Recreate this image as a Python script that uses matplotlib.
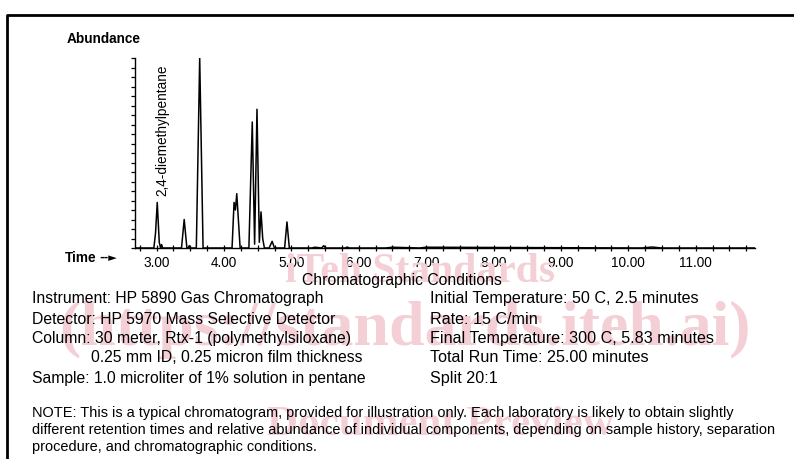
import matplotlib.pyplot as plt
from matplotlib.ticker import MultipleLocator

# chromatogram trace (time in minutes, abundance relative to tallest peak)
trace_time = [2.68, 2.96, 2.985, 3.01, 3.04, 3.06, 3.075, 3.09, 3.37, 3.41, 3.45, 3.47, 3.485, 3.50,
              3.59, 3.64, 3.69, 4.12, 4.15, 4.17, 4.19, 4.24, 4.37, 4.42, 4.455, 4.49, 4.525, 4.55,
              4.575, 4.60, 4.67, 4.715, 4.75, 4.90, 4.935, 4.97, 5.30, 5.35, 5.45, 5.48, 5.51,
              5.80, 5.83, 5.86, 6.4, 6.5, 6.9, 7.0, 10.2, 10.35, 10.5, 11.88]
trace_abund = [0.0, 0.0, 0.08, 0.24, 0.03, 0.0, 0.018, 0.0, 0.0, 0.15, 0.0, 0.0, 0.012, 0.0,
               0.0, 1.0, 0.0, 0.0, 0.24, 0.20, 0.286, 0.0, 0.0, 0.663, 0.02, 0.73, 0.03, 0.19,
               0.05, 0.0, 0.0, 0.035, 0.0, 0.0, 0.137, 0.0, 0.0, 0.004, 0.0, 0.012, 0.0,
               0.0, 0.005, 0.0, 0.0, 0.004, 0.0, 0.004, 0.0, 0.005, 0.0, 0.0]

time_ticks = [3, 4, 5, 6, 7, 8, 9, 10, 11]
time_labels = ["3.00", "4.00", "5.00", "6.00", "7.00", "8.00", "9.00", "10.00", "11.00"]

peak_name = "2,4-diemethylpentane"
peak_time = 3.01

left_lines = ["Instrument: HP 5890 Gas Chromatograph",
              "Detector: HP 5970 Mass Selective Detector",
              "Column: 30 meter, Rtx-1 (polymethylsiloxane)",
              "        0.25 mm ID, 0.25 micron film thickness",
              "Sample: 1.0 microliter of 1% solution in pentane"]
right_lines = ["Initial Temperature: 50 C, 2.5 minutes",
               "Rate: 15 C/min",
               "Final Temperature: 300 C, 5.83 minutes",
               "Total Run Time: 25.00 minutes",
               "Split 20:1"]
note_lines = ["NOTE: This is a typical chromatogram, provided for illustration only. Each laboratory is likely to obtain slightly",
              "different retention times and relative abundance of individual components, depending on sample history, separation",
              "procedure, and chromatographic conditions."]

plt.rcParams['font.family'] = ['Liberation Sans', 'DejaVu Sans']

W, H = 794, 459
fig = plt.figure(figsize=(W / 100, H / 100), dpi=100)

def fx(px):
    return px / W

def fy(py):
    return 1 - py / H

# frame round the whole sheet (right and bottom edges are cut off)
fig.add_artist(plt.Line2D([fx(7), fx(7), 1.0], [0.0, fy(15), fy(15)], color="black", lw=2,
                          transform=fig.transFigure))

# watermark
wm = "#f5cfd6"
fig.text(fx(420), fy(272), "iTeh Standards", fontsize=30, color=wm, family="Liberation Serif",
         weight="bold", ha="center", va="center", zorder=0.5)
fig.text(fx(405), fy(330), "(https://standards.iteh.ai)", fontsize=46, color=wm,
         family="Liberation Serif", weight="bold", ha="center", va="center", zorder=0.5)
fig.text(fx(440), fy(425), "Document Preview", fontsize=31, color=wm, family="Liberation Serif",
         weight="bold", ha="center", va="center", zorder=0.5)

ax = fig.add_axes([fx(135), fy(248), fx(755) - fx(135), fy(58) - fy(248)])
ax.patch.set_alpha(0)
ax.plot(trace_time, trace_abund, color="black", lw=1.1)
ax.set_xlim(2.68, 11.88)
ax.set_ylim(0, 1.0)

for s in ["top", "right"]:
    ax.spines[s].set_visible(False)
ax.spines["left"].set_linewidth(1.0)
ax.spines["bottom"].set_linewidth(1.0)

ax.set_xticks(time_ticks)
ax.set_xticklabels(time_labels, fontsize=9.8)
ax.xaxis.set_minor_locator(MultipleLocator(0.25))
ax.tick_params(axis="x", which="both", direction="inout", length=5, width=0.9, pad=3)
ax.yaxis.set_major_locator(MultipleLocator(0.05))
ax.set_yticklabels([])
ax.tick_params(axis="y", which="both", direction="out", length=3, width=0.9)

ax.text(peak_time + 0.07, 0.274, peak_name, rotation=90, fontsize=9.8, ha="center", va="bottom")

fig.text(fx(67), fy(39), "Abundance", fontsize=9.8, weight="bold", ha="left", va="center")
fig.text(fx(65), fy(258), "Time", fontsize=9.8, weight="bold", ha="left", va="center")
fig.text(fx(99), fy(258), "--\u25ba", fontsize=8, weight="bold", ha="left", va="center",
         family="DejaVu Sans")

fig.text(fx(402), fy(280), "Chromatographic Conditions", fontsize=11.3, ha="center", va="center")
ys = [299, 319, 339, 358, 378]
for y, l, r in zip(ys, left_lines, right_lines):
    xl = 32
    if l.startswith(" "):
        xl = 91
    fig.text(fx(xl), fy(y), l.strip(), fontsize=11.3, ha="left", va="center")
    fig.text(fx(430), fy(y), r, fontsize=11.6, ha="left", va="center")
for y, n in zip([413, 430, 447], note_lines):
    fig.text(fx(32), fy(y), n, fontsize=10.45, ha="left", va="center")

fig.savefig("out.png", dpi=100)
